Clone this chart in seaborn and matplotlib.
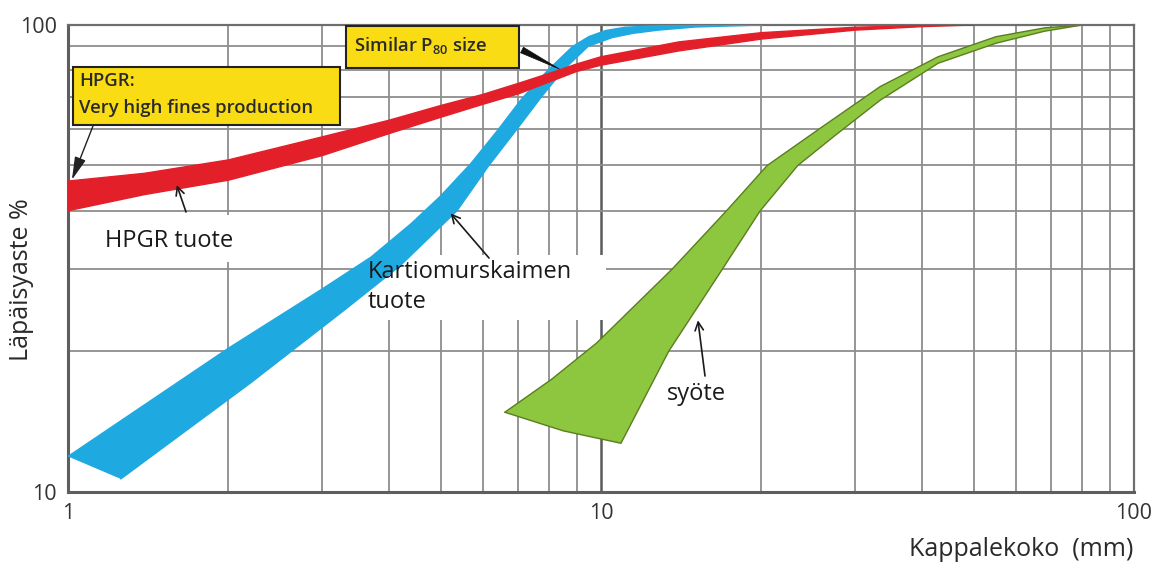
import numpy as np
import pandas as pd
import matplotlib
matplotlib.use("Agg")
import matplotlib.pyplot as plt
import seaborn as sns
from matplotlib.patches import Rectangle
from matplotlib.ticker import LogLocator, NullFormatter

# ---- particle size distributions (size in mm, passing in %) ----
# HPGR product band
hpgr_x = [1, 1.39, 2, 3, 4, 5, 6, 7, 8, 9, 10, 14, 20, 30, 40, 50]
hpgr_hi = [46.3, 48.1, 51.4, 57.6, 62.5, 67.2, 71.0, 75.0, 78.8, 82.5, 85.5, 92.0, 96.3, 98.9, 99.8, 100]
hpgr_lo = [40.0, 43.3, 46.5, 52.5, 58.5, 63.4, 67.6, 71.2, 75.5, 79.5, 82.0, 88.0, 93.3, 97.5, 99.2, 100]

# cone crusher product band
cone_hi_x = [1, 2, 3, 3.7, 4.4, 5, 5.7, 6.4, 7.1, 7.95, 8.85, 9.5, 10.2, 11.1, 12.8, 15, 20]
cone_hi = [11.9, 20.3, 27.2, 31.8, 37.5, 43.0, 50.5, 59.5, 69.5, 80, 90, 94.5, 97.3, 98.9, 99.6, 100, 100]
cone_lo_x = [1.256, 2.2, 3.3, 4.2, 5.37, 6.16, 6.97, 7.72, 8.49, 9.46, 10.5, 11.5, 12.8, 15, 20]
cone_lo = [10.65, 17.1, 24.5, 30.5, 40, 50, 60, 70, 80, 90, 94, 96, 97.5, 99, 100]

# feed band
feed_hi_x = [6.6, 8.07, 9.8, 13.6, 17.2, 20.5, 26.0, 33.4, 42.9, 55.1, 68, 80]
feed_hi = [14.8, 17.4, 20.8, 30.0, 40.0, 50.0, 60.5, 73.8, 85.5, 94.4, 98.6, 100]
feed_lo_x = [6.6, 8.5, 10.9, 13.4, 16.9, 19.9, 23.4, 27.5, 33.4, 42.9, 55.1, 68, 80]
feed_lo = [14.8, 13.5, 12.7, 20.0, 30.0, 40.0, 50.0, 58.0, 69.0, 82.8, 91.4, 97.0, 100]

x_ticks = [1, 10, 100]
x_tick_labels = ["1", "10", "100"]
y_ticks = [10, 100]
y_tick_labels = ["10", "100"]

RED = "#e3202a"
BLUE = "#1ea9e1"
GREEN = "#8dc63f"
GREEN_EDGE = "#5b7d1f"
YELLOW = "#fadc14"

sns.set_style("white")
LABEL_FONT = ["Open Sans", "DejaVu Sans"]
plt.rcParams["font.family"] = LABEL_FONT
plt.rcParams["mathtext.fontset"] = "custom"
plt.rcParams["mathtext.rm"] = "Open Sans:semibold"
plt.rcParams["mathtext.default"] = "rm"

fig = plt.figure(figsize=(11.51, 5.68), dpi=100)
fig.patch.set_facecolor("white")
ax = fig.add_axes([0.05908, 0.13433, 0.92615, 0.82165])

ax.set_xscale("log")
ax.set_yscale("log")
ax.set_xlim(1, 100)
ax.set_ylim(10, 100)

# grid
ax.xaxis.set_minor_locator(LogLocator(base=10, subs=np.arange(2, 10)))
ax.yaxis.set_minor_locator(LogLocator(base=10, subs=np.arange(2, 10)))
ax.xaxis.set_minor_formatter(NullFormatter())
ax.yaxis.set_minor_formatter(NullFormatter())
ax.set_axisbelow(True)
ax.grid(which="minor", color="#8e8e8e", lw=1.3)
ax.grid(which="major", axis="x", color="#5a5a5a", lw=1.8)
ax.grid(which="major", axis="y", color="#8e8e8e", lw=1.3)

ax.set_xticks(x_ticks, labels=x_tick_labels)
ax.set_yticks(y_ticks, labels=y_tick_labels)
ax.tick_params(which="major", direction="out", length=5, width=1.5, color="#555555",
               labelsize=15.5, labelcolor="#333333", pad=3)
ax.tick_params(which="minor", length=0)
for side in ["left", "bottom"]:
    ax.spines[side].set_color("#5e5e5e")
    ax.spines[side].set_linewidth(2.2)
for side in ["top", "right"]:
    ax.spines[side].set_color("#6e6e6e")
    ax.spines[side].set_linewidth(1.6)


def frac(px, py):
    """Pixel position inside the plotting area -> axes fraction."""
    return ((px - 68) / 1066, (491.7 - py) / 466.7)


# white label backgrounds over the grid
for (p0, p1) in [((75, 262), (320, 215)), ((366, 320), (606, 255)), ((645, 420), (745, 368))]:
    f0 = frac(*p0)
    f1 = frac(*p1)
    ax.add_patch(Rectangle(f0, f1[0] - f0[0], f1[1] - f0[1], transform=ax.transAxes,
                           facecolor="white", edgecolor="none", zorder=1))

# bands
edges = pd.concat([
    pd.DataFrame({"size": hpgr_x, "passing": hpgr_hi, "edge": "hpgr_hi"}),
    pd.DataFrame({"size": hpgr_x, "passing": hpgr_lo, "edge": "hpgr_lo"}),
    pd.DataFrame({"size": cone_hi_x, "passing": cone_hi, "edge": "cone_hi"}),
    pd.DataFrame({"size": cone_lo_x, "passing": cone_lo, "edge": "cone_lo"}),
    pd.DataFrame({"size": feed_hi_x, "passing": feed_hi, "edge": "feed_hi"}),
    pd.DataFrame({"size": feed_lo_x, "passing": feed_lo, "edge": "feed_lo"}),
], ignore_index=True)

ax.fill(np.r_[feed_hi_x, feed_lo_x[::-1]], np.r_[feed_hi, feed_lo[::-1]],
        color=GREEN, lw=0, zorder=2)
ax.fill(np.r_[cone_hi_x, cone_lo_x[::-1]], np.r_[cone_hi, cone_lo[::-1]],
        color=BLUE, lw=0, zorder=3)
ax.fill(np.r_[hpgr_x, hpgr_x[::-1]], np.r_[hpgr_hi, hpgr_lo[::-1]],
        color=RED, lw=0, zorder=4)

palette = {"hpgr_hi": RED, "hpgr_lo": RED, "cone_hi": BLUE, "cone_lo": BLUE,
           "feed_hi": GREEN_EDGE, "feed_lo": GREEN_EDGE}
for name, z in [("feed_hi", 2.1), ("feed_lo", 2.1), ("cone_hi", 3.1), ("cone_lo", 3.1),
                ("hpgr_hi", 4.1), ("hpgr_lo", 4.1)]:
    sns.lineplot(data=edges[edges["edge"] == name], x="size", y="passing",
                 color=palette[name], lw=1.0, sort=False, estimator=None,
                 legend=False, ax=ax, zorder=z)
# closing edge of the feed band
ax.plot([feed_hi_x[0], feed_lo_x[0]], [feed_hi[0], feed_lo[0]], color=GREEN_EDGE, lw=1.0, zorder=2.1)
ax.set_xlabel("")
ax.set_ylabel("")

# yellow callouts
for (p0, p1) in [((73, 125), (340, 67)), ((346, 68), (519, 26))]:
    f0 = frac(*p0)
    f1 = frac(*p1)
    ax.add_patch(Rectangle(f0, f1[0] - f0[0], f1[1] - f0[1], transform=ax.transAxes,
                           facecolor=YELLOW, edgecolor="#222222", lw=1.5, zorder=6,
                           clip_on=False))

box_kw = dict(transform=ax.transAxes, fontsize=13.3, fontweight="semibold",
              color="#2a2a2a", va="center", ha="left", zorder=7)
ax.text(*frac(79, 81), "HPGR:", **box_kw)
ax.text(*frac(79, 108), "Very high fines production", **box_kw)
ax.text(*frac(354, 45), "Similar P$_{80}$ size", **box_kw)

# callout arrows
ax.annotate("", xy=(1.017, 46.6), xycoords="data", xytext=frac(93, 126),
            textcoords="axes fraction",
            arrowprops=dict(arrowstyle="-|>,head_length=1.4,head_width=0.35",
                            color="#222222", lw=1.0, shrinkA=0, shrinkB=0), zorder=7)
ax.annotate("", xy=(8.35, 80.5), xycoords="data", xytext=frac(522, 50),
            textcoords="axes fraction",
            arrowprops=dict(arrowstyle="wedge,tail_width=0.45,shrink_factor=0.5",
                            color="#111111", lw=0.5, shrinkA=0, shrinkB=0), zorder=7)

# band labels
label_kw = dict(transform=ax.transAxes, fontsize=17, color="#1a1a1a", zorder=7,
                va="center", ha="left")
ax.text(*frac(105, 241), "HPGR tuote", **label_kw)
ax.text(*frac(368, 272), "Kartiomurskaimen", **label_kw)
ax.text(*frac(368, 302), "tuote", **label_kw)
ax.text(*frac(667, 394), "syöte", **label_kw)

arrow_kw = dict(arrowstyle="->,head_length=0.6,head_width=0.3", color="#1a1a1a", lw=1.2,
                shrinkA=0, shrinkB=0)
ax.annotate("", xy=(1.6, 45.4), xycoords="data", xytext=frac(186, 212),
            textcoords="axes fraction", arrowprops=arrow_kw, zorder=7)
ax.annotate("", xy=(5.22, 39.5), xycoords="data", xytext=frac(489, 258),
            textcoords="axes fraction", arrowprops=arrow_kw, zorder=7)
ax.annotate("", xy=(15.2, 23.3), xycoords="data", xytext=frac(705, 376),
            textcoords="axes fraction", arrowprops=arrow_kw, zorder=7)

# axis titles
fig.text(22 / 1151, 1 - 280 / 568, "Läpäisyaste %", rotation=90, ha="center", va="center",
         fontsize=18, color="#2a2a2a")
fig.text(1133 / 1151, 1 - 550 / 568, "Kappalekoko  (mm)", ha="right", va="center",
         fontsize=18, color="#2a2a2a")

fig.savefig("out.png", dpi=100, facecolor="white")
